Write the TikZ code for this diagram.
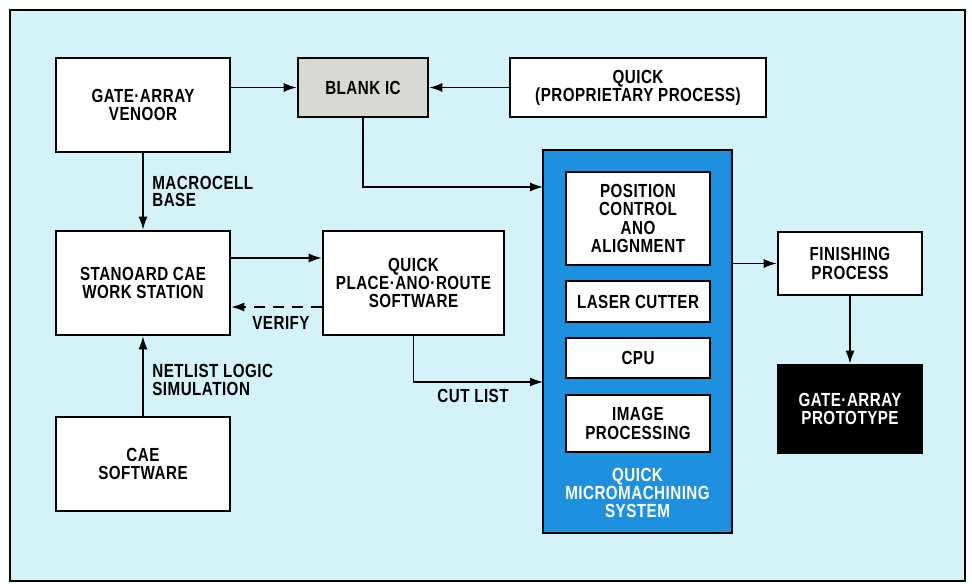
\documentclass[tikz,border=0pt]{standalone}
\usepackage{fontspec}
\setmainfont{Liberation Sans}[FakeStretch=0.8, LetterSpace=2.5]
\usepackage{xcolor}
\usetikzlibrary{positioning,arrows.meta}

\definecolor{panelcyan}{RGB}{212,243,248}
\definecolor{mmsblue}{RGB}{30,144,224}
\definecolor{blankgray}{RGB}{216,216,212}

\begin{document}
\begin{tikzpicture}[
        box/.style={rectangle, draw=black, line width=1.5pt, fill=white, align=center,
            font=\fontsize{10.8}{10.4}\selectfont\bfseries, inner sep=2pt},
        lbl/.style={align=left, anchor=west, font=\fontsize{10.8}{10.2}\selectfont\bfseries, inner sep=0pt},
        arr/.style={line width=0.8pt, -{Latex[length=2.6mm,width=1.8mm]}}
    ]
        % Panel
        \fill[white] (0, 0) rectangle (19.44, 11.66);
        \useasboundingbox (0, 0) rectangle (19.44, 11.66);
        \draw[line width=1pt, fill=panelcyan] (0.2, 0.04) rectangle (19.3, 11.46);

        % Top row
        \node[box, minimum width=3.48cm, minimum height=1.88cm] (vendor) at (2.86, 9.56) {GATE·ARRAY\\VENOOR};
        \node[box, fill=blankgray, minimum width=2.6cm, minimum height=1.18cm] (blank) at (7.26, 9.91) {BLANK IC};
        \node[box, minimum width=5.12cm, minimum height=1.18cm] (quickp) at (12.76, 9.91) {QUICK\\(PROPRIETARY PROCESS)};

        % Left column
        \node[box, minimum width=3.48cm, minimum height=2.08cm] (ws) at (2.86, 6.0) {STANOARD CAE\\WORK STATION};
        \node[box, minimum width=3.48cm, minimum height=1.88cm] (cae) at (2.86, 2.38) {CAE\\SOFTWARE};
        \node[box, minimum width=3.62cm, minimum height=2.08cm] (par) at (8.27, 6.0) {QUICK\\PLACE·ANO·ROUTE\\SOFTWARE};

        % Micromachining system
        \node[rectangle, draw=black, line width=1pt, fill=mmsblue, minimum width=3.78cm, minimum height=7.66cm] (mms) at (12.75, 4.83) {};
        \node[box, minimum width=2.88cm, minimum height=1.86cm] (pos) at (12.76, 7.29) {POSITION\\CONTROL\\ANO\\ALIGNMENT};
        \node[box, minimum width=2.88cm, minimum height=0.82cm] (laser) at (12.76, 5.63) {LASER CUTTER};
        \node[box, minimum width=2.88cm, minimum height=0.8cm] (cpu) at (12.76, 4.5) {CPU};
        \node[box, minimum width=2.88cm, minimum height=1.14cm] (image) at (12.76, 3.19) {IMAGE\\PROCESSING};
        \node[align=center, text=white, font=\fontsize{10.8}{10.2}\selectfont\bfseries, inner sep=0pt] (mmsname) at (12.75, 1.8) {QUICK\\MICROMACHINING\\SYSTEM};

        % Right column
        \node[box, minimum width=2.88cm, minimum height=1.26cm] (finish) at (17.0, 6.39) {FINISHING\\PROCESS};
        \node[box, fill=black, text=white, minimum width=2.88cm, minimum height=1.76cm] (proto) at (17.0, 3.48) {GATE·ARRAY\\PROTOTYPE};

        % Connections
        \coordinate (icin) at (10.86, 7.92);
        \coordinate (cutin) at (10.86, 4.02);
        \draw[arr] (vendor.east |- blank.west) -- (blank.west);
        \draw[arr] (quickp.west) -- (blank.east);
        \draw[arr] (blank.south) |- (icin);
        \draw[arr] (vendor.south) -- (ws.north);
        \draw[arr] (cae.north) -- (ws.south);
        \draw[arr] ([yshift=0.5cm]ws.east) -- ([yshift=0.5cm]par.west);
        \draw[arr, dashed, dash pattern=on 2.2mm off 1.6mm] ([yshift=-0.48cm]par.west) -- ([yshift=-0.48cm]ws.east);
        \draw[arr] (par.south) |- (cutin);
        \draw[arr] (mms.east |- finish.west) -- (finish.west);
        \draw[arr] (finish.south) -- (proto.north);

        % Labels
        \node[lbl] (macro) at (3.04, 7.83) {MACROCELL\\BASE};
        \node[lbl] (netlist) at (3.04, 4.06) {NETLIST LOGIC\\SIMULATION};
        \node[lbl, anchor=center] (verify) at (5.62, 5.2) {VERIFY};
        \node[lbl, anchor=center] (cutlist) at (9.46, 3.74) {CUT LIST};
    \end{tikzpicture}
\end{document}
